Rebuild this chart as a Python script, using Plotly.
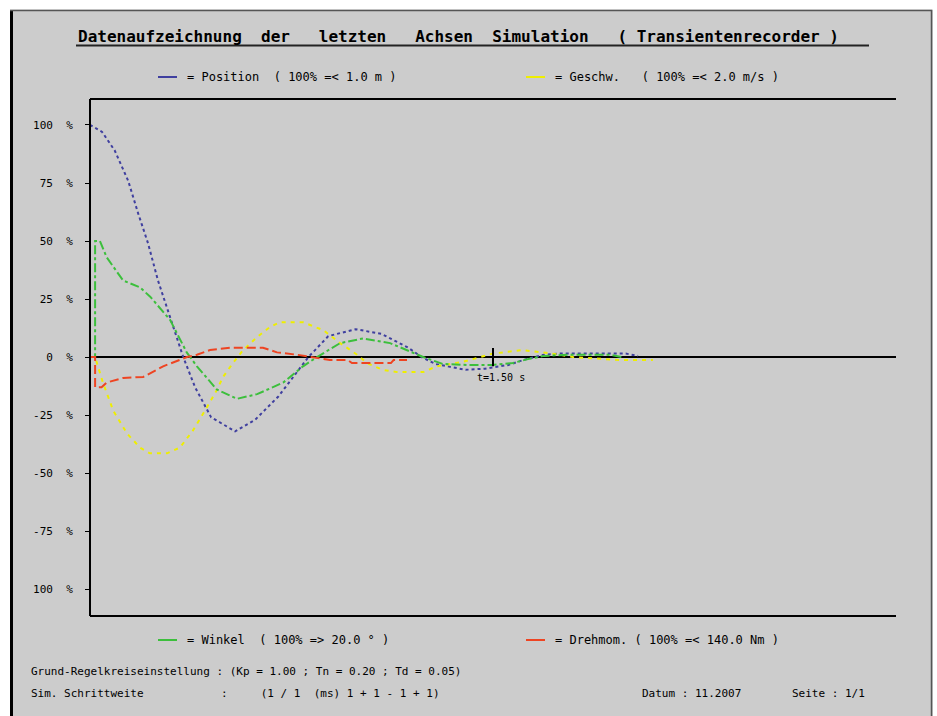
import plotly.graph_objects as go

# --- Messdaten (Zeit in s, Werte in % vom Nennwert) ---
pos_t = [0.000, 0.045, 0.092, 0.142, 0.179, 0.216, 0.253, 0.302, 0.347, 0.391, 0.451,
         0.540, 0.615, 0.701, 0.813, 0.887, 0.988, 1.085, 1.185, 1.234, 1.286, 1.398,
         1.470, 1.558, 1.621, 1.690, 1.744, 1.994, 2.040]
pos_v = [100, 97, 89, 76, 62, 49, 33, 16, 0, -13, -26,
         -32, -27, -17, 0, 9, 12, 10, 4, 0, -3, -5.5,
         -5, -3.4, -1, 1, 1.5, 1.5, 0.5]

gesch_t = [0.000, 0.019, 0.048, 0.086, 0.138, 0.186, 0.223, 0.287, 0.335, 0.384, 0.436,
           0.473, 0.495, 0.532, 0.570, 0.622, 0.670, 0.707, 0.793, 0.868, 0.931, 0.994,
           1.031, 1.091, 1.143, 1.240, 1.290, 1.390, 1.500, 1.610, 1.720, 1.797, 1.970, 2.095]
gesch_v = [0, 0, -11, -23, -33, -39, -41.5, -41.5, -39, -31.5, -21.5,
           -14, -8.6, -2.6, 3, 8.6, 13, 15, 15, 11.6, 6, 1,
           -2.6, -5.6, -6.5, -6.5, -4, -2, 1.5, 3, 1.5, 0, -1.3, -1.3]

winkel_t = [0.000, 0.019, 0.019, 0.037, 0.062, 0.123, 0.186, 0.224, 0.298, 0.360, 0.398,
            0.472, 0.547, 0.622, 0.719, 0.793, 0.845, 0.931, 1.016, 1.117, 1.240, 1.314,
            1.403, 1.500, 1.574, 1.626, 1.690, 1.786, 1.935, 1.980]
winkel_v = [0, 0, 50, 50, 43, 33, 30, 26, 16, 2, -4,
            -14, -18, -16, -11, -4, 0, 6, 8, 6, 0, -3,
            -3.4, -3.4, -2.6, -1, 0.5, 1, 1, 0]

moment_t = [0.000, 0.019, 0.019, 0.043, 0.062, 0.123, 0.198, 0.272, 0.361, 0.398, 0.447,
            0.521, 0.644, 0.696, 0.770, 0.819, 0.893, 0.960, 0.975, 1.120, 1.130, 1.180]
moment_v = [0, 0, -13, -13, -11, -9, -8.6, -4, 0, 1, 3,
            4, 4, 2, 1, 0, -1.3, -1.3, -2.6, -2.6, -1.3, -1.3]

cursor_t = [1.5]
cursor_v = [0]
cursor_label = "t=1.50 s"

y_ticks = [100, 75, 50, 25, 0, -25, -50, -75, -100]
y_ticktext = ["100  %", " 75  %", " 50  %", " 25  %", "  0  %",
              "-25  %", "-50  %", "-75  %", "100  %"]

legend_texts = [
    "= Position  ( 100% =< 1.0 m )",
    "= Geschw.   ( 100% =< 2.0 m/s )",
    "= Winkel  ( 100% => 20.0 ° )",
    "= Drehmom. ( 100% =< 140.0 Nm )",
]

colors = {"pos": "#3f3f9f", "gesch": "#eeee00", "winkel": "#3cbf3c", "moment": "#ee4422"}

MONO = "DejaVu Sans Mono"
W, H = 937, 716
ML, MR, MT, MB = 90, 41, 99, 100
PW, PH = W - ML - MR, H - MT - MB


def px(x):
    return (x - ML) / PW


def py(y):
    return (H - MB - y) / PH


fig = go.Figure()

fig.add_trace(go.Scatter(x=pos_t, y=pos_v, mode="lines",
                         line=dict(color=colors["pos"], width=2, dash="dot")))
fig.add_trace(go.Scatter(x=gesch_t, y=gesch_v, mode="lines",
                         line=dict(color=colors["gesch"], width=2, dash="4px,5px")))
fig.add_trace(go.Scatter(x=winkel_t, y=winkel_v, mode="lines",
                         line=dict(color=colors["winkel"], width=2, dash="dashdot")))
fig.add_trace(go.Scatter(x=moment_t, y=moment_v, mode="lines",
                         line=dict(color=colors["moment"], width=2, dash="9px,4px")))
fig.add_trace(go.Scatter(x=cursor_t, y=cursor_v, mode="markers",
                         marker=dict(symbol="line-ns", size=13,
                                     line=dict(color="black", width=2))))

shapes = []
# outer frame
shapes.append(dict(type="rect", xref="paper", yref="paper",
                   x0=px(0), x1=px(W), y0=py(0), y1=py(9.5),
                   fillcolor="white", line=dict(width=0), layer="below"))
shapes.append(dict(type="rect", xref="paper", yref="paper",
                   x0=px(0), x1=px(10), y0=py(0), y1=py(H),
                   fillcolor="white", line=dict(width=0), layer="below"))
shapes.append(dict(type="rect", xref="paper", yref="paper",
                   x0=px(933), x1=px(W), y0=py(0), y1=py(H),
                   fillcolor="white", line=dict(width=0), layer="below"))
shapes.append(dict(type="line", xref="paper", yref="paper",
                   x0=px(11.5), x1=px(11.5), y0=py(10), y1=py(H),
                   line=dict(color="black", width=3)))
shapes.append(dict(type="line", xref="paper", yref="paper",
                   x0=px(10), x1=px(932), y0=py(10.5), y1=py(10.5),
                   line=dict(color="#555555", width=1.5)))
shapes.append(dict(type="line", xref="paper", yref="paper",
                   x0=px(931.5), x1=px(931.5), y0=py(10), y1=py(H),
                   line=dict(color="#555555", width=1.5)))
# plot box (left, top, bottom)
shapes.append(dict(type="line", xref="paper", yref="paper", x0=0, x1=0, y0=0, y1=1,
                   line=dict(color="black", width=2)))
shapes.append(dict(type="line", xref="paper", yref="paper", x0=0, x1=1, y0=1, y1=1,
                   line=dict(color="black", width=2)))
shapes.append(dict(type="line", xref="paper", yref="paper", x0=0, x1=1, y0=0, y1=0,
                   line=dict(color="black", width=2)))
# title underline
shapes.append(dict(type="line", xref="paper", yref="paper",
                   x0=px(76), x1=px(869), y0=py(45.5), y1=py(45.5),
                   line=dict(color="#222222", width=2)))

annotations = []
annotations.append(dict(
    xref="paper", yref="paper", x=px(76), y=py(37), xanchor="left", yanchor="middle",
    text="<b>Datenaufzeichnung  der   letzten   Achsen  Simulation   ( Transientenrecorder )</b>",
    showarrow=False, font=dict(family=MONO, size=16, color="black")))

# cursor label below the time marker
annotations.append(dict(xref="x", yref="y", x=cursor_t[0], y=cursor_v[0],
                        xanchor="center", yanchor="middle", yshift=-20, xshift=8,
                        text=cursor_label, showarrow=False,
                        font=dict(family=MONO, size=10, color="black")))

# legend rows: swatch + text
legend_rows = [
    (legend_texts[0], colors["pos"], 158, 77),
    (legend_texts[1], colors["gesch"], 526, 77),
    (legend_texts[2], colors["winkel"], 158, 640),
    (legend_texts[3], colors["moment"], 526, 640),
]
for txt, col, x0, yy in legend_rows:
    shapes.append(dict(type="line", xref="paper", yref="paper",
                       x0=px(x0), x1=px(x0 + 19), y0=py(yy), y1=py(yy),
                       line=dict(color=col, width=2)))
    annotations.append(dict(xref="paper", yref="paper", x=px(x0 + 27), y=py(yy),
                            xanchor="left", yanchor="middle", text=txt, showarrow=False,
                            font=dict(family=MONO, size=12, color="black")))

footer = [
    ("Grund-Regelkreiseinstellung : (Kp = 1.00 ; Tn = 0.20 ; Td = 0.05)", 29, 671),
    ("Sim. Schrittweite", 29, 693),
    (":     (1 / 1  (ms) 1 + 1 - 1 + 1)", 219, 693),
    ("Datum : 11.2007", 640, 693),
    ("Seite : 1/1", 790, 693),
]
for txt, xx, yy in footer:
    annotations.append(dict(xref="paper", yref="paper", x=px(xx), y=py(yy),
                            xanchor="left", yanchor="middle", text=txt, showarrow=False,
                            font=dict(family=MONO, size=11, color="black")))

fig.update_layout(
    width=W, height=H,
    margin=dict(l=ML, r=MR, t=MT, b=MB, pad=0),
    paper_bgcolor="#cccccc", plot_bgcolor="#cccccc",
    showlegend=False,
    shapes=shapes, annotations=annotations,
    xaxis=dict(range=[0, 3], showgrid=False, zeroline=False, showticklabels=False,
               ticks="", showline=False, fixedrange=True),
    yaxis=dict(range=[-111.6, 111.2], showgrid=False, zeroline=True,
               zerolinecolor="black", zerolinewidth=2,
               tickvals=y_ticks, ticktext=y_ticktext, ticks="outside", ticklen=4,
               tickcolor="black", tickwidth=1, ticklabelstandoff=10,
               tickfont=dict(family=MONO, size=11, color="black"),
               showline=False, fixedrange=True),
)

fig.write_html("out.html")
